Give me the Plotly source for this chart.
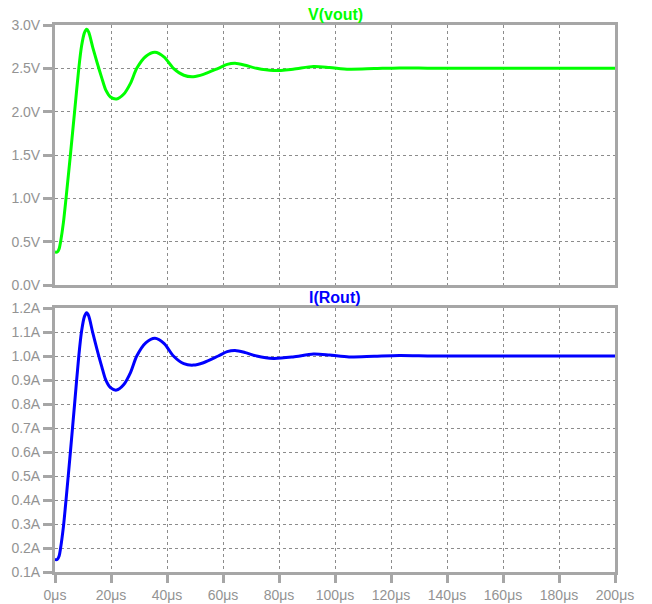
import plotly.graph_objects as go

# Transient simulation: output voltage and load current
time_us = [0, 0.8, 1.5, 2, 3, 4, 5.5, 7, 8.5, 9.5, 10.5, 11.3, 12.0, 13.5, 15.0,
           16.7, 18.2, 19.8, 22, 24.5, 27, 29.2, 32.5, 35.7, 39, 42.3, 46, 49.4,
           53, 58.3, 61.5, 64.3, 68, 72, 78, 85, 92.3, 98, 105, 114, 123, 135,
           150, 170, 200]
v_out = [0.38, 0.38, 0.42, 0.5, 0.72, 1.02, 1.5, 2.0, 2.5, 2.76, 2.91, 2.95, 2.92,
         2.74, 2.57, 2.39, 2.245, 2.17, 2.146, 2.2, 2.33, 2.5, 2.64, 2.685, 2.63,
         2.5, 2.42, 2.404, 2.43, 2.5, 2.545, 2.558, 2.535, 2.5, 2.474, 2.49, 2.52,
         2.51, 2.49, 2.497, 2.505, 2.5, 2.5, 2.5, 2.5]
i_rout = [0.152, 0.152, 0.168, 0.2, 0.288, 0.408, 0.6, 0.8, 1.0, 1.104, 1.164, 1.18,
          1.168, 1.096, 1.028, 0.956, 0.898, 0.868, 0.858, 0.88, 0.932, 1.0, 1.056,
          1.074, 1.052, 1.0, 0.968, 0.962, 0.972, 1.0, 1.018, 1.023, 1.014, 1.0,
          0.99, 0.996, 1.008, 1.004, 0.996, 0.999, 1.002, 1.0, 1.0, 1.0, 1.0]

x_ticks = [0, 20, 40, 60, 80, 100, 120, 140, 160, 180, 200]
v_ticks = [0.0, 0.5, 1.0, 1.5, 2.0, 2.5, 3.0]
i_ticks = [0.1, 0.2, 0.3, 0.4, 0.5, 0.6, 0.7, 0.8, 0.9, 1.0, 1.1, 1.2]

W, H = 652, 604
FRAME = "#a6a6a6"
GRID = "#8c8c8c"
LABEL = "#939393"
FONT = "Liberation Sans, Arial, sans-serif"

fig = go.Figure()
fig.add_trace(go.Scatter(x=time_us, y=v_out, mode="lines", xaxis="x", yaxis="y",
                         line=dict(color="#00ff00", width=3, shape="spline", smoothing=0.8),
                         hoverinfo="skip"))
fig.add_trace(go.Scatter(x=time_us, y=i_rout, mode="lines", xaxis="x2", yaxis="y2",
                         line=dict(color="#0000ff", width=3, shape="spline", smoothing=0.8),
                         hoverinfo="skip"))

x_left, x_right = 55 / W, 615 / W
top_dom = [1 - 285 / H, 1 - 25 / H]
bot_dom = [1 - 572 / H, 1 - 308 / H]

common_axis = dict(showline=True, mirror=True, linecolor=FRAME, linewidth=3,
                   showgrid=True, gridcolor=GRID, gridwidth=1, griddash="dot",
                   zeroline=False, automargin=False,
                   tickfont=dict(family=FONT, size=14, color=LABEL))

fig.update_layout(
    width=W, height=H, margin=dict(l=0, r=0, t=0, b=0),
    paper_bgcolor="white", plot_bgcolor="white", showlegend=False,
    xaxis=dict(domain=[x_left, x_right], range=[0, 200], anchor="y",
               tickvals=x_ticks, showticklabels=False, ticks="", **common_axis),
    yaxis=dict(domain=top_dom, range=[0, 3.0], anchor="x",
               tickvals=v_ticks, ticktext=[f"{v:.1f}V" for v in v_ticks],
               ticks="outside", ticklen=9, tickwidth=3, tickcolor=FRAME, **common_axis),
    xaxis2=dict(domain=[x_left, x_right], range=[0, 200], anchor="y2",
                tickvals=x_ticks, ticktext=[f"{v}μs" for v in x_ticks],
                ticks="outside", ticklen=8, tickwidth=3, tickcolor=FRAME, **common_axis),
    yaxis2=dict(domain=bot_dom, range=[0.1, 1.2], anchor="x2",
                tickvals=i_ticks, ticktext=[f"{v:.1f}A" for v in i_ticks],
                ticks="outside", ticklen=9, tickwidth=3, tickcolor=FRAME, **common_axis),
    annotations=[
        dict(text="<b>V(vout)</b>", x=0.5, xref="x domain", y=1 - 14 / H, yref="paper",
             yanchor="middle", showarrow=False,
             font=dict(family=FONT, size=16, color="#00ff00")),
        dict(text="<b>I(Rout)</b>", x=0.5, xref="x2 domain", y=1 - 297 / H, yref="paper",
             yanchor="middle", showarrow=False,
             font=dict(family=FONT, size=16, color="#0000ff")),
    ],
)

fig.write_html("out.html")
